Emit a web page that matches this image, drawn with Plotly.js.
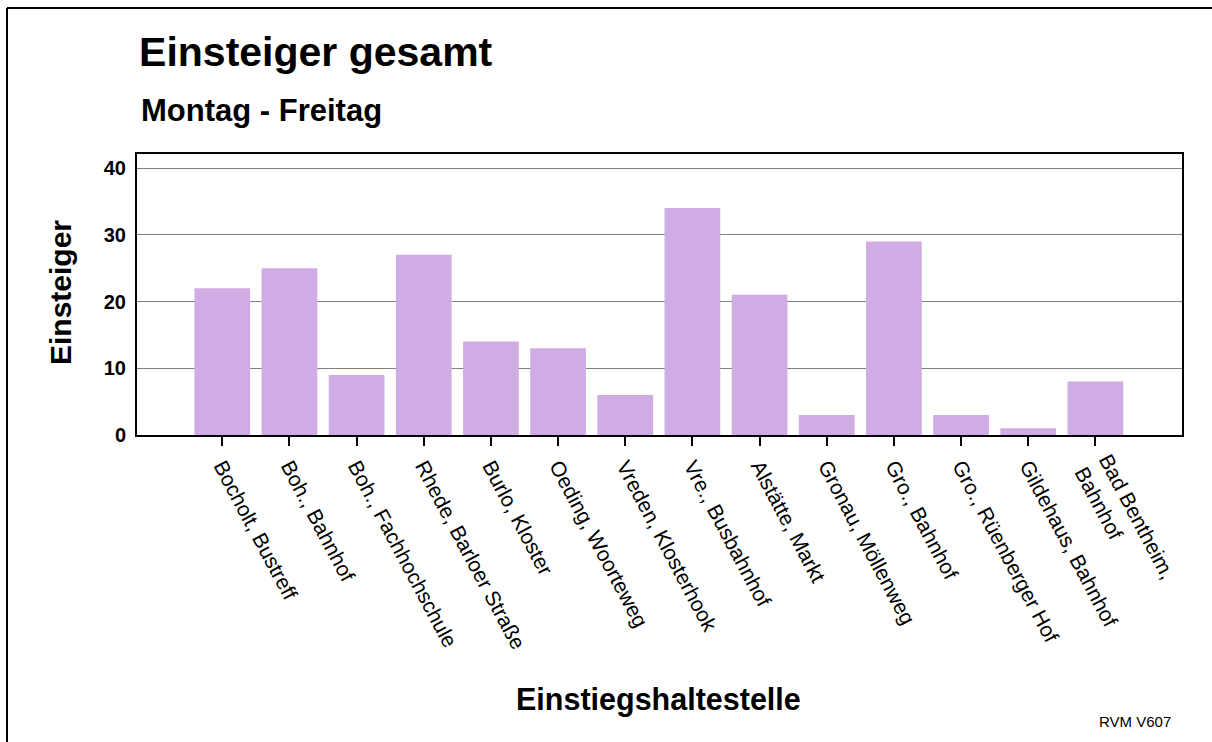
<!DOCTYPE html>
<html><head><meta charset="utf-8">
<script src="https://cdn.plot.ly/plotly-3.0.1.min.js"></script>
<style>html,body{margin:0;padding:0;background:#fff}#chart{width:1212px;height:742px}</style>
</head><body><div id="chart"></div>
<script>
const stops = ["Bocholt, Bustreff","Boh., Bahnhof","Boh., Fachhochschule","Rhede, Barloer Straße","Burlo, Kloster","Oeding, Woorteweg","Vreden, Klosterhook","Vre., Busbahnhof","Alstätte, Markt","Gronau, Möllenweg","Gro., Bahnhof","Gro., Rüenberger Hof","Gildehaus, Bahnhof","Bad Bentheim,<br>Bahnhof"];
const boardings = [22,25,9,27,14,13,6,34,21,3,29,3,1,8];
const yTicks = [0,10,20,30,40];

const FONT = "Liberation Sans, Arial, sans-serif";
const trace = {
  type: 'bar', x: stops.map((s,i)=>i), y: boardings,
  width: 0.83, marker: {color: '#D0ACE4', line: {width: 0}},
  hoverinfo: 'skip'
};
const layout = {
  width: 1212, height: 742,
  margin: {l: 137, r: 30, t: 154, b: 307, pad: 0},
  paper_bgcolor: '#fff', plot_bgcolor: '#fff',
  showlegend: false,
  font: {family: FONT, color: '#000'},
  title: {text: 'Einsteiger gesamt', font: {size: 41, weight: 'bold', family: FONT, color: '#000'},
    xref: 'paper', x: 0.002, xanchor: 'left', yref: 'container', y: 1 - 52/742, yanchor: 'middle'},
  xaxis: {
    range: [-1.27, 14.29], tickvals: stops.map((s,i)=>i), ticktext: stops,
    tickangle: 62, ticks: 'outside', ticklen: 9, tickwidth: 2, tickcolor: '#000',
    tickfont: {size: 21, family: FONT, color: '#000'},
    showgrid: false, zeroline: false, showline: true, linecolor: '#000', linewidth: 2, mirror: true,
    automargin: false, fixedrange: true
  },
  yaxis: {
    range: [0, 42.1], tickvals: yTicks, ticks: '', ticklabelstandoff: 5,
    tickfont: {size: 20, weight: 'bold', family: FONT, color: '#000'},
    showgrid: true, gridcolor: '#808080', gridwidth: 1,
    zeroline: false, showline: true, linecolor: '#000', linewidth: 2, mirror: true,
    automargin: false, fixedrange: true
  },
  annotations: [
    {text: 'Montag - Freitag', xref: 'paper', yref: 'paper', x: 0.002, xanchor: 'left',
     y: (435-111)/281, yanchor: 'middle', showarrow: false,
     font: {size: 31, weight: 'bold', family: FONT, color: '#000'}},
    {text: 'Einsteiger', xref: 'paper', yref: 'paper', x: (60-137)/1045, xanchor: 'center',
     y: (435-293)/281, yanchor: 'middle', textangle: -90, showarrow: false,
     font: {size: 30, weight: 'bold', family: FONT, color: '#000'}},
    {text: 'Einstiegshaltestelle', xref: 'paper', yref: 'paper', x: (658-137)/1045, xanchor: 'center',
     y: (435-699)/281, yanchor: 'middle', showarrow: false,
     font: {size: 30.5, weight: 'bold', family: FONT, color: '#000'}},
    {text: 'RVM V607', xref: 'paper', yref: 'paper', x: (1173-137)/1045, xanchor: 'right',
     y: (435-722)/281, yanchor: 'middle', showarrow: false,
     font: {size: 15, family: FONT, color: '#000'}}
  ],
  shapes: [
    {type: 'line', xref: 'paper', yref: 'paper', x0: (7-137)/1045, x1: 1.2, y0: (435-8)/281, y1: (435-8)/281,
     line: {color: '#000', width: 2}},
    {type: 'line', xref: 'paper', yref: 'paper', x0: (7-137)/1045, x1: (7-137)/1045, y0: (435-8)/281, y1: -1.2,
     line: {color: '#000', width: 2}}
  ]
};
Plotly.newPlot('chart', [trace], layout, {displayModeBar: false, staticPlot: true});
</script></body></html>
